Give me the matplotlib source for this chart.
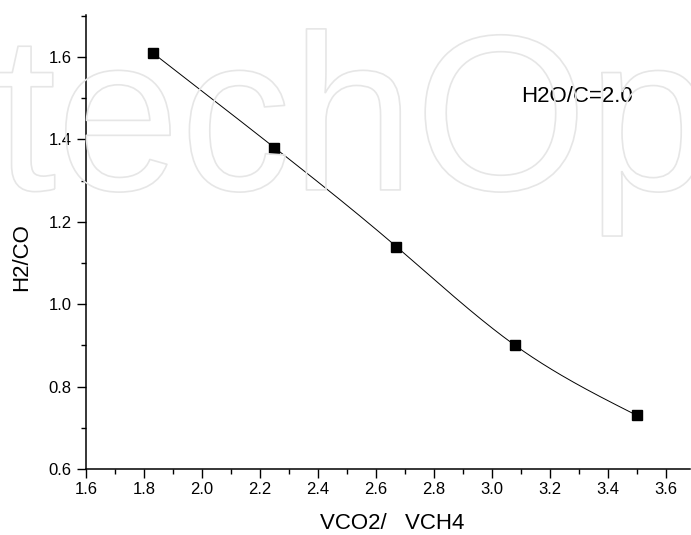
import numpy as np
import matplotlib
matplotlib.use('Agg')
import matplotlib.pyplot as plt
import matplotlib.patheffects as pe
from matplotlib.ticker import MultipleLocator, FormatStrFormatter

plt.rcParams['font.family'] = ['Liberation Sans', 'DejaVu Sans']

# data
vco2_vch4 = [1.83, 2.25, 2.67, 3.08, 3.50]
h2_co = [1.61, 1.38, 1.14, 0.90, 0.73]
note = 'H2O/C=2.0'


def natural_spline(x, y, n=200):
    # smooth curve through the points (natural cubic spline)
    x = np.asarray(x, float)
    y = np.asarray(y, float)
    k = len(x)
    h = np.diff(x)
    A = np.zeros((k, k))
    b = np.zeros(k)
    A[0, 0] = 1
    A[-1, -1] = 1
    for i in range(1, k - 1):
        A[i, i - 1] = h[i - 1]
        A[i, i] = 2 * (h[i - 1] + h[i])
        A[i, i + 1] = h[i]
        b[i] = 6 * ((y[i + 1] - y[i]) / h[i] - (y[i] - y[i - 1]) / h[i - 1])
    m = np.linalg.solve(A, b)
    xs = np.linspace(x[0], x[-1], n)
    idx = np.clip(np.searchsorted(x, xs) - 1, 0, k - 2)
    x0, x1 = x[idx], x[idx + 1]
    hh = x1 - x0
    t0 = x1 - xs
    t1 = xs - x0
    ys = (m[idx] * t0 ** 3 + m[idx + 1] * t1 ** 3) / (6 * hh) \
        + (y[idx] / hh - m[idx] * hh / 6) * t0 \
        + (y[idx + 1] / hh - m[idx + 1] * hh / 6) * t1
    return xs, ys


fig = plt.figure(figsize=(6.91, 5.35), dpi=100)
ax = fig.add_axes([0.1245, 0.1234, 0.874, 0.8486])
ax.patch.set_alpha(0)

# faint watermark
fig.text(-0.276, 0.645, 'IntechOpen', fontsize=160, color='none', zorder=0,
         ha='left', va='baseline',
         path_effects=[pe.Stroke(linewidth=1.2, foreground='#e6e6e6')])

xs, ys = natural_spline(vco2_vch4, h2_co)
ax.plot(xs, ys, color='black', lw=0.7, zorder=2)
ax.plot(vco2_vch4, h2_co, 's', color='black', ms=7, zorder=3)

ax.text(3.10, 1.505, note, fontsize=16, va='center', ha='left')

ax.set_xlim(1.6, 3.683)
ax.set_ylim(0.6, 1.702)
ax.xaxis.set_major_locator(MultipleLocator(0.2))
ax.xaxis.set_minor_locator(MultipleLocator(0.1))
ax.yaxis.set_major_locator(MultipleLocator(0.2))
ax.yaxis.set_minor_locator(MultipleLocator(0.1))
ax.xaxis.set_major_formatter(FormatStrFormatter('%.1f'))
ax.yaxis.set_major_formatter(FormatStrFormatter('%.1f'))

for s in ['top', 'right']:
    ax.spines[s].set_visible(False)
for s in ['left', 'bottom']:
    ax.spines[s].set_linewidth(1.1)

ax.tick_params(which='major', direction='out', length=6.5, width=1.0, labelsize=12)
ax.tick_params(which='minor', direction='out', length=3.3, width=1.0)
ax.tick_params(axis='x', which='major', pad=3)
ax.tick_params(axis='y', which='major', pad=4)

ax.set_xlabel('VCO2/   VCH4', fontsize=16, va='center')
ax.set_ylabel('H2/CO', fontsize=16, va='center')
ax.xaxis.set_label_coords(0.507, -0.121)
ax.yaxis.set_label_coords(-0.106, 0.467)

fig.savefig('out.png', dpi=100)
